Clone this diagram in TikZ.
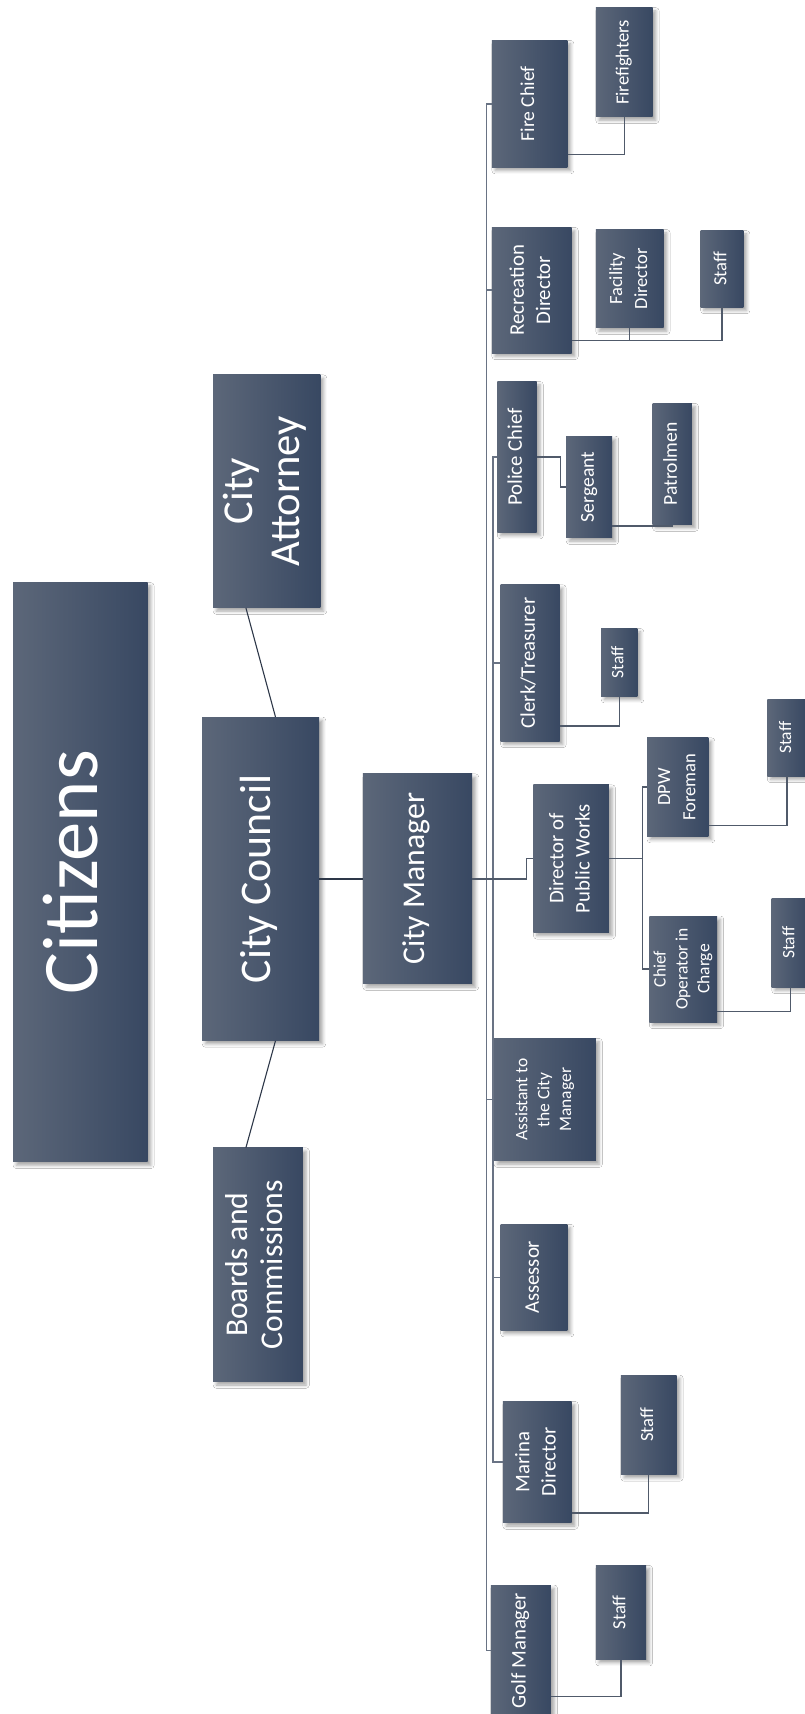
\documentclass[tikz,border=0pt]{standalone}
\usepackage{fontspec}
\usepackage{graphicx}
\setmainfont{Carlito}
\usetikzlibrary{shadows.blur}
\definecolor{boxL}{RGB}{92,103,121}
\definecolor{boxR}{RGB}{56,72,98}
\definecolor{lineC}{RGB}{80,90,106}
\definecolor{busC}{RGB}{105,115,132}
\definecolor{darkC}{RGB}{45,55,72}
\newcommand\rtxt[3]{\rotatebox{90}{\fontsize{#1}{#2}\selectfont\begin{tabular}{@{}c@{}}#3\end{tabular}}}
\tikzset{
  box/.style={draw=none, left color=boxL, right color=boxR, inner sep=0pt, text=white,
    blur shadow={shadow xshift=3pt, shadow yshift=-3pt, shadow blur radius=3pt, shadow opacity=35}},
  conn/.style={draw=lineC, line width=1.2pt},
  bus/.style={draw=busC, line width=1.4pt},
}
\begin{document}
\begin{tikzpicture}[x=1pt,y=-1pt]
\fill[white] (0,0) rectangle (736,1568);
\useasboundingbox (0,0) rectangle (736,1568);

% top levels
\node[box, minimum width=123pt, minimum height=530pt] (citizens) at (73.5,798) {\rtxt{72}{80}{Citizens}};
\node[box, minimum width=107pt, minimum height=296pt] (council) at (238.5,804) {\rtxt{40}{46}{City Council}};
\node[box, minimum width=98pt, minimum height=213pt] (attorney) at (244,449.5) {\rtxt{39}{43}{City\\Attorney}};
\node[box, minimum width=82pt, minimum height=214pt] (boards) at (236,1157) {\rtxt{29}{32}{Boards and\\Commissions}};
\node[box, minimum width=100pt, minimum height=192pt] (manager) at (382,804) {\rtxt{29}{33}{City Manager}};

% departments
\node[box, minimum width=69pt, minimum height=116pt] (fire) at (484.5,95) {\rtxt{18}{21}{Fire Chief}};
\node[box, minimum width=52pt, minimum height=100pt] (firefighters) at (571,57) {\rtxt{17}{20}{Firefighters}};
\node[box, minimum width=73pt, minimum height=115pt] (rec) at (486.5,265.5) {\rtxt{19}{24}{Recreation\\Director}};
\node[box, minimum width=62pt, minimum height=90pt] (facility) at (576,255) {\rtxt{17}{23}{Facility\\Director}};
\node[box, minimum width=39pt, minimum height=70pt] (recstaff) at (660.5,246) {\rtxt{17}{20}{Staff}};
\node[box, minimum width=36pt, minimum height=138pt] (police) at (473,418) {\rtxt{19}{22}{Police Chief}};
\node[box, minimum width=42pt, minimum height=93pt] (sergeant) at (539,445.5) {\rtxt{18}{21}{Sergeant}};
\node[box, minimum width=36pt, minimum height=111pt] (patrolmen) at (615,424.5) {\rtxt{18}{21}{Patrolmen}};
\node[box, minimum width=54pt, minimum height=143pt] (clerk) at (485,606.5) {\rtxt{19}{22}{Clerk/Treasurer}};
\node[box, minimum width=33pt, minimum height=62pt] (clerkstaff) at (566.5,606) {\rtxt{16}{19}{Staff}};
\node[box, minimum width=69pt, minimum height=135pt] (dpw) at (522.5,785.5) {\rtxt{19}{24}{Director of\\Public Works}};
\node[box, minimum width=56pt, minimum height=90pt] (foreman) at (620,720) {\rtxt{17}{23}{DPW\\Foreman}};
\node[box, minimum width=62pt, minimum height=97pt] (chiefop) at (625,886.5) {\rtxt{16}{20}{Chief\\Operator in\\Charge}};
\node[box, minimum width=36pt, minimum height=70pt] (foremanstaff) at (720,675) {\rtxt{16}{19}{Staff}};
\node[box, minimum width=34pt, minimum height=81pt] (chiefopstaff) at (723,862.5) {\rtxt{16}{19}{Staff}};
\node[box, minimum width=93pt, minimum height=112pt] (assistant) at (498.5,1006) {\rtxt{16}{20}{Assistant to\\the City\\Manager}};
\node[box, minimum width=61pt, minimum height=97pt] (assessor) at (488.5,1168.5) {\rtxt{19}{22}{Assessor}};
\node[box, minimum width=63pt, minimum height=111pt] (marina) at (491.5,1337.5) {\rtxt{19}{24}{Marina\\Director}};
\node[box, minimum width=51pt, minimum height=91pt] (marinastaff) at (593.5,1303.5) {\rtxt{17}{20}{Staff}};
\node[box, minimum width=55pt, minimum height=120pt] (golf) at (476.5,1510) {\rtxt{19}{22}{Golf Manager}};
\node[box, minimum width=46pt, minimum height=86pt] (golfstaff) at (568,1475) {\rtxt{17}{20}{Staff}};

% upper connectors
\draw[conn, line width=1pt, draw=darkC] ([xshift=-19pt]attorney.south) -- ([xshift=13.5pt]council.north);
\draw[conn, line width=1pt, draw=darkC] ([xshift=-11pt]boards.north) -- ([xshift=13.5pt]council.south);
\draw[conn, draw=darkC] (council.east) -- (manager.west);

% bus from city manager
\draw[bus] (manager.east) -- ++(13,0) |- (fire.west);
\draw[bus] (manager.east) -- ++(13,0) |- (rec.west);
\draw[bus] (manager.east) -- ++(19,0) |- (police.west);
\draw[bus] (manager.east) -- ++(19,0) |- (clerk.west);
\draw[bus] (manager.east) -- ++(13,0) |- (assistant.west);
\draw[bus] (manager.east) -- ++(19,0) |- (assessor.west);
\draw[bus] (manager.east) -- ++(19,0) |- (marina.west);
\draw[bus] (manager.east) -- ++(13,0) |- (golf.west);
\draw[conn] (manager.east) -- ([xshift=-6pt]dpw.west |- manager.east) -- ([xshift=-6pt]dpw.west) -- (dpw.west);

% sub connectors
\draw[conn] ([yshift=12pt]fire.south east) -| (firefighters.south);
\draw[conn] ([yshift=12pt]rec.south east) -| (facility.south);
\draw[conn] ([yshift=12pt]rec.south east) -| (recstaff.south);
\draw[conn] (police.east) -- ([xshift=-5pt]sergeant.west |- police.east) -- ([xshift=-5pt]sergeant.west) -- (sergeant.west);
\draw[conn] ([yshift=11pt]sergeant.south east) -| (patrolmen.south);
\draw[conn] ([yshift=14pt]clerk.south east) -| (clerkstaff.south);
\draw[conn] (dpw.east) -- ([xshift=-4pt]foreman.west |- dpw.east) |- (foreman.west);
\draw[conn] ([xshift=-4pt]foreman.west |- dpw.east) |- (chiefop.west);
\draw[conn] ([yshift=10pt]foreman.south east) -| (foremanstaff.south);
\draw[conn] ([yshift=10pt]chiefop.south east) -| (chiefopstaff.south);
\draw[conn] ([yshift=9pt]marina.south east) -| (marinastaff.south);
\draw[conn] ([yshift=-42pt]golf.east) -| (golfstaff.south);
\end{tikzpicture}
\end{document}
